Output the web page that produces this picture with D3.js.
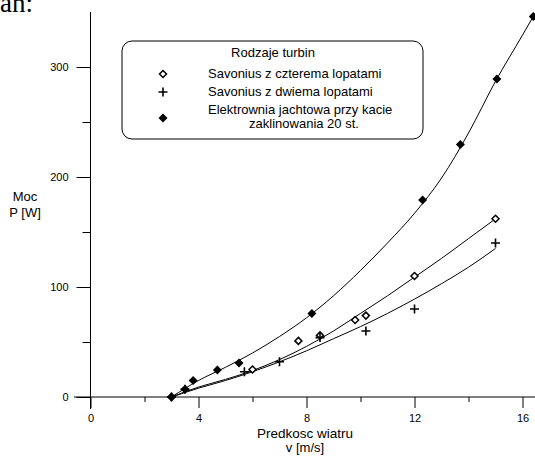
<!DOCTYPE html>
<html>
<head>
<meta charset="utf-8">
<script src="https://cdn.jsdelivr.net/npm/d3@7"></script>
<style>
  body { margin: 0; background: #fff; }
  text { font-family: "Liberation Sans", Arial, sans-serif; }
</style>
</head>
<body>
<div id="canvas"></div>
<script>
"use strict"

let speedFour = [3, 6.0, 7.7, 8.5, 9.8, 10.2, 12, 15];
let powerFour = [0, 25, 51, 56, 70, 74, 110, 162];

let speedTwo = [3, 3.5, 5.7, 7, 8.5, 10.2, 12, 15];
let powerTwo = [0, 7, 23, 32, 54, 60, 80, 140];

let speedYacht = [3, 3.5, 3.8, 4.7, 5.5, 8.2, 12.3, 13.7, 15.05, 16.4];
let powerYacht = [0, 7, 15, 24.5, 31, 76, 179, 229.5, 289, 346];

/* fitted curves */
let fitSpeed = [3, 4, 5, 6, 7, 8, 9, 10, 11, 12, 13, 14, 15];
let fitFour = [0, 9, 16, 24, 34, 46, 60, 76, 92, 109, 126, 144, 162];
let fitTwo = [0, 8, 15, 23, 32, 42, 53, 64, 76, 89, 103, 118, 135];
let fitYachtSpeed = [3, 4, 5, 6, 7, 8, 9, 10, 11, 12, 13, 14, 15, 16, 16.4];
let fitYacht = [0, 15, 27, 40, 55, 72, 92, 115, 140, 167, 199, 240, 287, 329, 346];

let xMajor = [0, 4, 8, 12, 16];
let xMinor = [2, 6, 10, 14];
let yMajor = [0, 100, 200, 300];
let yMinor = [50, 150, 250];

let legendTitle = "Rodzaje turbin";
let legendNames = ["Savonius z czterema lopatami",
                   "Savonius z dwiema lopatami",
                   ["Elektrownia jachtowa przy kacie", "zaklinowania 20 st."]];

let drawing = d3.select("#canvas")
    .append("svg")
    .attr("width", 535)
    .attr("height", 457);

let x = d3.scaleLinear().domain([0, 16]).range([90.5, 522.5]);
let y = d3.scaleLinear().domain([0, 350]).range([397, 12]);

/* piece of the text above the chart, cut by the page edge */
drawing.append("text")
    .attr("x", 0)
    .attr("y", 12)
    .style("font-family", "'Liberation Serif', serif")
    .style("font-size", "27px")
    .text("ań:");

/* axes lines */
drawing.append("line")
    .attr("x1", 74).attr("y1", y(0))
    .attr("x2", 535).attr("y2", y(0))
    .attr("stroke", "black");
drawing.append("line")
    .attr("x1", x(0)).attr("y1", 12)
    .attr("x2", x(0)).attr("y2", 409)
    .attr("stroke", "black");

/* x ticks */
let xAxis = drawing.append("g")
    .attr("transform", "translate(0," + y(0) + ")")
    .call(d3.axisBottom(x).tickValues(xMajor).tickSize(11).tickPadding(6).tickFormat(d3.format("d")));
drawing.append("g")
    .attr("transform", "translate(0," + y(0) + ")")
    .call(d3.axisBottom(x).tickValues(xMinor).tickSize(5).tickFormat(""));

/* y ticks */
let yAxis = drawing.append("g")
    .attr("transform", "translate(" + x(0) + ",0)")
    .call(d3.axisLeft(y).tickValues(yMajor).tickSize(14).tickPadding(8).tickFormat(d3.format("d")));
drawing.append("g")
    .attr("transform", "translate(" + x(0) + ",0)")
    .call(d3.axisLeft(y).tickValues(yMinor).tickSize(8).tickFormat(""));

drawing.selectAll(".domain").remove();
drawing.selectAll(".tick text")
    .style("font-family", "'Liberation Sans', Arial, sans-serif")
    .style("font-size", "11px")
    .attr("fill", "black");
drawing.selectAll(".tick line").attr("stroke", "black");

/* axis titles */
drawing.append("text")
    .attr("x", 305).attr("y", 438)
    .attr("text-anchor", "middle")
    .style("font-size", "13.5px")
    .text("Predkosc wiatru");
drawing.append("text")
    .attr("x", 305).attr("y", 452)
    .attr("text-anchor", "middle")
    .style("font-size", "13px")
    .text("v [m/s]");
drawing.append("text")
    .attr("x", 25).attr("y", 201)
    .attr("text-anchor", "middle")
    .style("font-size", "13px")
    .text("Moc");
drawing.append("text")
    .attr("x", 25).attr("y", 217)
    .attr("text-anchor", "middle")
    .style("font-size", "13px")
    .text("P [W]");

/* fitted curves */
let curve = d3.line()
    .x(d => x(d[0]))
    .y(d => y(d[1]))
    .curve(d3.curveMonotoneX);

drawing.append("path")
    .attr("d", curve(d3.zip(fitSpeed, fitFour)))
    .attr("fill", "none")
    .attr("stroke", "black");
drawing.append("path")
    .attr("d", curve(d3.zip(fitSpeed, fitTwo)))
    .attr("fill", "none")
    .attr("stroke", "black");
drawing.append("path")
    .attr("d", curve(d3.zip(fitYachtSpeed, fitYacht)))
    .attr("fill", "none")
    .attr("stroke", "black");

/* markers */
let diamond = "M0,-4.5L4.5,0L0,4.5L-4.5,0Z";
let smallDiamond = "M0,-3.5L3.5,0L0,3.5L-3.5,0Z";
let cross = "M-4.5,0H4.5M0,-4.5V4.5";

function drawOpen(g, px, py) {
    g.append("path")
        .attr("d", smallDiamond)
        .attr("transform", "translate(" + px + "," + py + ")")
        .attr("fill", "white")
        .attr("stroke", "black")
        .attr("stroke-width", 1.5);
}
function drawCross(g, px, py) {
    g.append("path")
        .attr("d", cross)
        .attr("transform", "translate(" + px + "," + py + ")")
        .attr("fill", "none")
        .attr("stroke", "black")
        .attr("stroke-width", 1.6);
}
function drawFilled(g, px, py) {
    g.append("path")
        .attr("d", diamond)
        .attr("transform", "translate(" + px + "," + py + ")")
        .attr("fill", "black");
}

let marks = drawing.append("g");
d3.zip(speedFour, powerFour).forEach(d => drawOpen(marks, x(d[0]), y(d[1])));
d3.zip(speedTwo, powerTwo).forEach(d => drawCross(marks, x(d[0]), y(d[1])));
d3.zip(speedYacht, powerYacht).forEach(d => drawFilled(marks, x(d[0]), y(d[1])));

/* legend box */
let legend = drawing.append("g");
legend.append("rect")
    .attr("x", 122).attr("y", 41)
    .attr("width", 301).attr("height", 98)
    .attr("rx", 10).attr("ry", 10)
    .attr("fill", "white")
    .attr("stroke", "black");
legend.append("text")
    .attr("x", 273).attr("y", 57)
    .attr("text-anchor", "middle")
    .style("font-size", "13px")
    .text(legendTitle);

drawOpen(legend, 163, 74);
legend.append("text").attr("x", 208).attr("y", 78)
    .style("font-size", "13px").text(legendNames[0]);
drawCross(legend, 163, 92);
legend.append("text").attr("x", 208).attr("y", 96)
    .style("font-size", "13px").text(legendNames[1]);
drawFilled(legend, 163, 118);
legend.append("text").attr("x", 208).attr("y", 114)
    .style("font-size", "13px").text(legendNames[2][0]);
legend.append("text").attr("x", 304).attr("y", 128)
    .attr("text-anchor", "middle")
    .style("font-size", "13px").text(legendNames[2][1]);
</script>
</body>
</html>
